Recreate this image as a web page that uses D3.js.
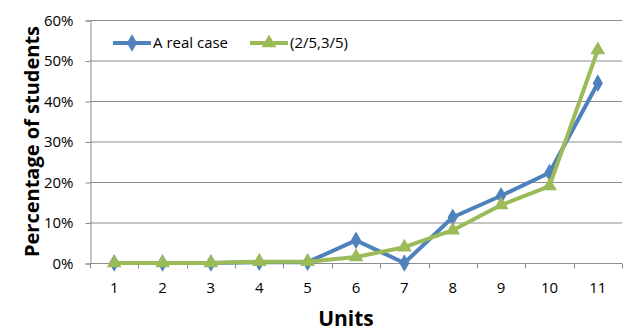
<!DOCTYPE html>
<html>
<head>
<meta charset="utf-8">
<script src="https://cdn.jsdelivr.net/npm/d3@7"></script>
<style>
body { margin: 0; background: #fff; }
text { font-family: "Open Sans", "Liberation Sans", sans-serif; }
</style>
</head>
<body>
<div id="chart"></div>
<script>
const units = ["1", "2", "3", "4", "5", "6", "7", "8", "9", "10", "11"];
const realCase = [0, 0, 0, 0.2, 0.2, 5.6, 0, 11.3, 16.6, 22.3, 44.4];
const model = [0, 0, 0, 0.3, 0.3, 1.5, 3.9, 8.1, 14.3, 19.0, 52.6];
const yTicks = [0, 10, 20, 30, 40, 50, 60];

const width = 643, height = 336;
const margin = {top: 20, right: 21, bottom: 73, left: 90};

const svg = d3.select("#chart").append("svg")
    .attr("width", width)
    .attr("height", height);

const x = d3.scaleBand()
    .domain(units)
    .range([margin.left, width - margin.right]);

const y = d3.scaleLinear()
    .domain([0, 60])
    .range([height - margin.bottom, margin.top]);

// gridlines
svg.append("g")
    .selectAll("line")
    .data(yTicks.slice(1))
    .join("line")
    .attr("x1", margin.left)
    .attr("x2", width - margin.right)
    .attr("y1", d => y(d) + 0.5)
    .attr("y2", d => y(d) + 0.5)
    .attr("stroke", "#8c8c8c")
    .attr("stroke-width", 1);

// y axis
const yAxis = svg.append("g")
    .attr("transform", `translate(${margin.left + 0.5},0.5)`)
    .call(d3.axisLeft(y).tickValues(yTicks).tickFormat(d => d + "%").tickSize(5).tickPadding(12));
yAxis.select(".domain").attr("stroke", "#8c8c8c");
yAxis.selectAll(".tick line").attr("stroke", "#8c8c8c");
yAxis.selectAll("text").attr("font-size", 15).attr("fill", "#000");

// x axis
const xAxis = svg.append("g")
    .attr("transform", `translate(0,${y(0) + 0.5})`);
xAxis.append("line")
    .attr("x1", margin.left)
    .attr("x2", width - margin.right)
    .attr("stroke", "#8c8c8c");
xAxis.selectAll(".xtick")
    .data(units.concat(["end"]))
    .join("line")
    .attr("x1", (d, i) => Math.round(margin.left + i * x.step()) + 0.5)
    .attr("x2", (d, i) => Math.round(margin.left + i * x.step()) + 0.5)
    .attr("y1", 0)
    .attr("y2", 5)
    .attr("stroke", "#8c8c8c");
xAxis.selectAll(".xlabel")
    .data(units)
    .join("text")
    .attr("x", d => x(d) + x.bandwidth() / 2)
    .attr("y", 29)
    .attr("text-anchor", "middle")
    .attr("font-size", 15)
    .text(d => d);

// axis titles
svg.append("text")
    .attr("x", 346)
    .attr("y", 326)
    .attr("text-anchor", "middle")
    .attr("font-size", 21)
    .attr("font-weight", "bold")
    .text("Units");

svg.append("text")
    .attr("transform", `translate(39,${(y(0) + y(60)) / 2}) rotate(-90)`)
    .attr("text-anchor", "middle")
    .attr("font-size", 20)
    .attr("font-weight", "bold")
    .text("Percentage of students");

// series
const series = [
    {name: "A real case", values: realCase, color: "#4F81BD", symbol: d3.symbolDiamond},
    {name: "(2/5,3/5)", values: model, color: "#9BBB59", symbol: d3.symbolTriangle}
];

const line = d3.line()
    .x((d, i) => x(units[i]) + x.bandwidth() / 2)
    .y(d => y(d));

series.forEach(s => {
    svg.append("path")
        .datum(s.values)
        .attr("d", line)
        .attr("fill", "none")
        .attr("stroke", s.color)
        .attr("stroke-width", 4)
        .attr("stroke-linejoin", "round");
    svg.append("g")
        .selectAll("path")
        .data(s.values)
        .join("path")
        .attr("transform", (d, i) => `translate(${x(units[i]) + x.bandwidth() / 2},${y(d)})`)
        .attr("d", d3.symbol().type(s.symbol).size(s.symbol === d3.symbolDiamond ? 90 : 95))
        .attr("fill", s.color);
});

// legend
const legendX = [113, 250];
series.forEach((s, i) => {
    const g = svg.append("g").attr("transform", `translate(${legendX[i]},43)`);
    g.append("line")
        .attr("x1", 0).attr("x2", 38)
        .attr("stroke", s.color)
        .attr("stroke-width", 4);
    g.append("path")
        .attr("transform", "translate(19,0)")
        .attr("d", d3.symbol().type(s.symbol).size(s.symbol === d3.symbolDiamond ? 90 : 95))
        .attr("fill", s.color);
    g.append("text")
        .attr("x", 40)
        .attr("y", 5)
        .attr("font-size", 15)
        .text(s.name);
});
</script>
</body>
</html>
